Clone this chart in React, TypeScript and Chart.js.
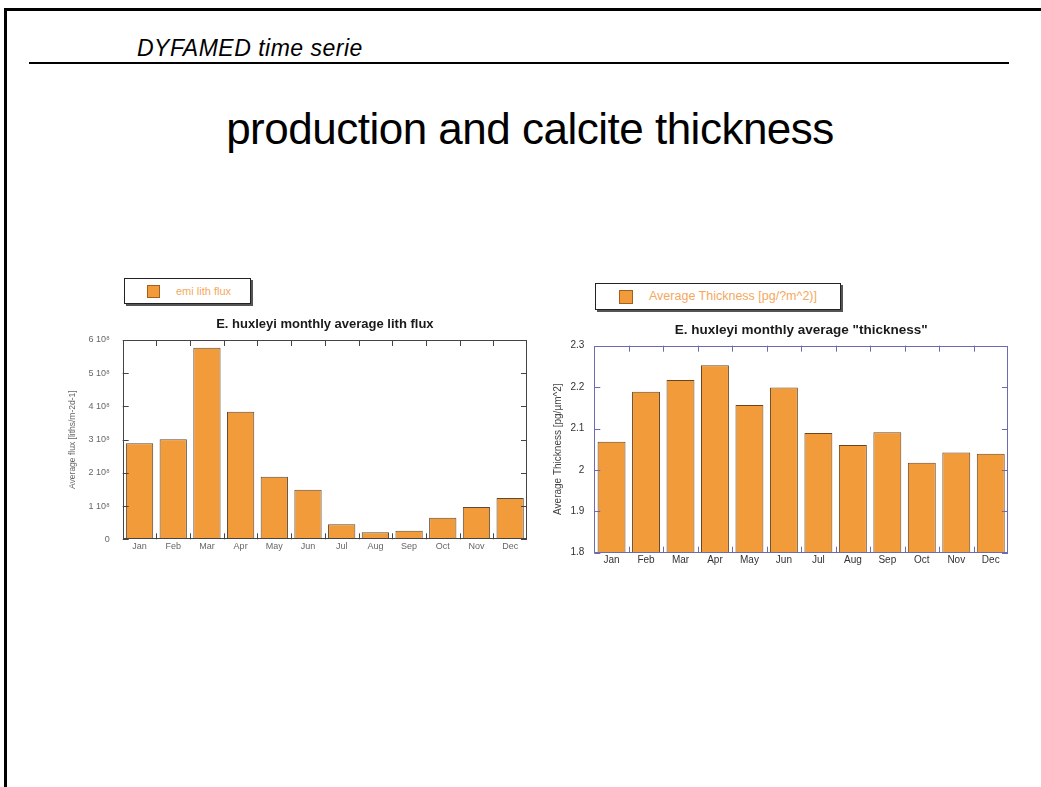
import React, { useEffect, useRef } from "react";
import { Chart, registerables } from "chart.js";

Chart.register(...registerables);

const months = ["Jan", "Feb", "Mar", "Apr", "May", "Jun", "Jul", "Aug", "Sep", "Oct", "Nov", "Dec"];

// E. huxleyi monthly average lith flux (liths m-2 d-1)
const lithFlux = [2.89e8, 3.01e8, 5.77e8, 3.84e8, 1.88e8, 1.49e8, 0.45e8, 0.21e8, 0.26e8, 0.65e8, 0.97e8, 1.24e8];
const fluxTickLabels = ["0", "1 10⁸", "2 10⁸", "3 10⁸", "4 10⁸", "5 10⁸", "6 10⁸"];

// E. huxleyi monthly average "thickness" (pg/µm^2)
const thickness = [2.068, 2.189, 2.217, 2.253, 2.157, 2.199, 2.089, 2.06, 2.091, 2.017, 2.042, 2.039];
const thicknessTickLabels = ["1.8", "1.9", "2", "2.1", "2.2", "2.3"];

const FONT = "'Liberation Sans', Arial, Helvetica, sans-serif";
const ORANGE = "#F29B3A";

const framePlugin = {
  id: "frame",
  afterDatasetsDraw(chart: any, _args: any, opts: any) {
    const { ctx, chartArea, scales } = chart;
    const { left, right, top, bottom } = chartArea;
    const x = scales.x;
    const y = scales.y;
    const len = opts.tickLength || 6;
    ctx.save();
    ctx.strokeStyle = opts.color || "#444";
    ctx.lineWidth = opts.width || 1;
    ctx.strokeRect(Math.round(left) + 0.5, Math.round(top) + 0.5, Math.round(right - left) - 1, Math.round(bottom - top) - 1);
    ctx.beginPath();
    y.ticks.forEach((_t: any, i: number) => {
      const py = Math.round(y.getPixelForTick(i)) + 0.5;
      ctx.moveTo(left, py);
      ctx.lineTo(left + len, py);
      ctx.moveTo(right, py);
      ctx.lineTo(right - len, py);
    });
    for (let i = 1; i < x.ticks.length; i++) {
      const px = Math.round((x.getPixelForTick(i - 1) + x.getPixelForTick(i)) / 2) + 0.5;
      ctx.moveTo(px, top);
      ctx.lineTo(px, top + len);
      ctx.moveTo(px, bottom);
      ctx.lineTo(px, bottom - len);
    }
    ctx.stroke();
    ctx.restore();
  },
};

function BarChart(props: any) {
  const ref = useRef<HTMLCanvasElement>(null);
  const p = props;
  useEffect(() => {
    const chart = new Chart(ref.current as HTMLCanvasElement, {
      type: "bar",
      data: {
        labels: months,
        datasets: [
          {
            label: p.label,
            data: p.data,
            backgroundColor: ORANGE,
            borderColor: p.barBorder,
            borderWidth: 1,
            categoryPercentage: 1,
            barPercentage: 0.81,
          },
        ],
      },
      options: {
        responsive: false,
        animation: false,
        devicePixelRatio: 1,
        layout: { padding: { left: 0, right: p.padRight, top: 0, bottom: 0 } },
        plugins: {
          legend: { display: false },
          tooltip: { enabled: false },
          title: {
            display: true,
            text: p.title,
            fullSize: false,
            color: "#1a1a1a",
            font: { family: FONT, size: p.titleSize, weight: "bold", lineHeight: 1.2 },
            padding: { top: 5, bottom: p.titlePadBottom },
          },
          frame: { color: p.frameColor, tickLength: 6, width: 1 },
        } as any,
        scales: {
          x: {
            grid: { display: false, drawTicks: false },
            border: { display: false },
            ticks: {
              color: p.tickColor,
              font: { family: FONT, size: p.xTickSize },
              padding: 2,
              maxRotation: 0,
              autoSkip: false,
            },
            afterFit: (s: any) => {
              s.height = p.xHeight;
            },
          },
          y: {
            min: p.min,
            max: p.max,
            grid: { display: false, drawTicks: false },
            border: { display: false },
            ticks: {
              stepSize: p.step,
              color: p.tickColor,
              padding: p.yTickPad,
              font: { family: FONT, size: p.yTickSize },
              callback: (_v: any, i: number) => p.tickLabels[i],
            },
            title: {
              display: true,
              text: p.yTitle,
              color: p.yTitleColor,
              font: { family: FONT, size: p.yTitleSize, lineHeight: 1.2 },
              padding: { top: p.yTitlePad, bottom: 0 },
            },
            afterFit: (s: any) => {
              s.width = p.yWidth;
            },
          },
        },
      },
      plugins: [framePlugin],
    } as any);
    return () => chart.destroy();
  }, []);
  return (
    <canvas
      ref={ref}
      width={p.width}
      height={p.height}
      style={{ position: "absolute", left: p.left, top: p.top, width: p.width, height: p.height }}
    />
  );
}

function Legend(props: any) {
  const p = props;
  return (
    <div
      style={{
        position: "absolute",
        left: p.left,
        top: p.top,
        width: p.width,
        height: p.height,
        boxSizing: "border-box",
        border: "1px solid #222",
        boxShadow: "2px 2px 0 #555",
        background: "#fff",
      }}
    >
      <div
        style={{
          position: "absolute",
          left: p.boxLeft,
          top: (p.height - 2 - p.box) / 2,
          width: p.box,
          height: p.box,
          boxSizing: "border-box",
          background: ORANGE,
          border: "1px solid #a06020",
        }}
      />
      <div
        style={{
          position: "absolute",
          left: p.textLeft,
          top: 0,
          height: p.height - 2,
          lineHeight: p.height - 2 + "px",
          fontFamily: FONT,
          fontSize: p.fontSize,
          color: "#F5A860",
          whiteSpace: "nowrap",
        }}
      >
        {p.text}
      </div>
    </div>
  );
}

export default function App() {
  return (
    <div style={{ position: "absolute", left: 0, top: 0, width: 1041, height: 787, background: "#fff", overflow: "hidden" }}>
      {/* slide frame */}
      <div style={{ position: "absolute", left: 4, top: 8, width: 1100, height: 3, background: "#000" }} />
      <div style={{ position: "absolute", left: 4, top: 8, width: 3, height: 800, background: "#000" }} />
      <div style={{ position: "absolute", left: 29, top: 62, width: 980, height: 2, background: "#000" }} />
      <div
        style={{
          position: "absolute",
          left: 137,
          top: 34,
          fontFamily: FONT,
          fontStyle: "italic",
          fontSize: 23,
          letterSpacing: "0.5px",
          lineHeight: "28px",
          color: "#000",
          whiteSpace: "nowrap",
        }}
      >
        DYFAMED time serie
      </div>
      <div
        style={{
          position: "absolute",
          left: 0,
          width: 1060,
          top: 103,
          textAlign: "center",
          fontFamily: FONT,
          fontSize: 44,
          letterSpacing: "-0.5px",
          lineHeight: "52px",
          color: "#000",
          whiteSpace: "nowrap",
        }}
      >
        production and calcite thickness
      </div>

      <Legend left={124} top={278} width={127} height={26} box={13} boxLeft={22} textLeft={51} fontSize={11} text="emi lith flux" />
      <BarChart
        left={60}
        top={312}
        width={475}
        height={248}
        padRight={8}
        label="emi lith flux"
        data={lithFlux}
        title="E. huxleyi monthly average lith flux"
        titleSize={13}
        titlePadBottom={7.4}
        min={0}
        max={6e8}
        step={1e8}
        tickLabels={fluxTickLabels}
        tickColor="#666"
        xTickSize={9}
        yTickSize={9}
        yTickPad={13}
        yTitle="Average flux [liths/m-2d-1]"
        yTitleColor="#666"
        yTitleSize={8.5}
        yTitlePad={7.6}
        yWidth={62.7}
        xHeight={20.7}
        frameColor="#444"
        barBorder="#5a4a3a"
      />

      <Legend left={595} top={283} width={246} height={27} box={14} boxLeft={23} textLeft={53} fontSize={12.5} text="Average Thickness [pg/?m^2)]" />
      <BarChart
        left={548}
        top={317}
        width={466}
        height={256}
        padRight={6}
        label="Average Thickness [pg/?m^2)]"
        data={thickness}
        title={'E. huxleyi monthly average "thickness"'}
        titleSize={13.5}
        titlePadBottom={7.5}
        min={1.8}
        max={2.3}
        step={0.1}
        tickLabels={thicknessTickLabels}
        tickColor="#333"
        xTickSize={10}
        yTickSize={10}
        yTickPad={10}
        yTitle="Average Thickness [pg/µm^2]"
        yTitleColor="#444"
        yTitleSize={10}
        yTitlePad={4.3}
        yWidth={46.3}
        xHeight={20.3}
        frameColor="#6b6bb0"
        barBorder="#6a4520"
      />
    </div>
  );
}
